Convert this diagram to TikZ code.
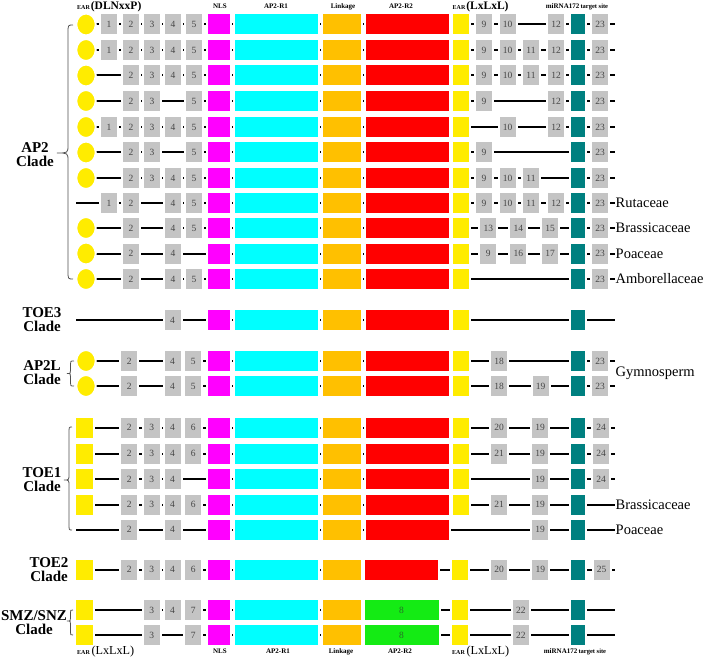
\documentclass[tikz,border=0pt]{standalone}
\usepackage{fontspec}
\setmainfont{Liberation Serif}
\usetikzlibrary{shapes.geometric}
\definecolor{earyellow}{RGB}{255,236,0}
\definecolor{boxgray}{RGB}{196,196,196}
\definecolor{numgray}{RGB}{70,70,70}
\definecolor{nlsmag}{RGB}{255,0,255}
\definecolor{rcyan}{RGB}{0,255,255}
\definecolor{lnkorange}{RGB}{255,192,0}
\definecolor{rred}{RGB}{255,0,0}
\definecolor{rgreen}{RGB}{20,235,20}
\definecolor{mirteal}{RGB}{0,128,128}
\definecolor{bracegray}{RGB}{80,80,80}
\tikzset{
  blk/.style={draw=white, line width=2pt, inner sep=0pt, outer sep=0pt, minimum height=22pt},
  gbox/.style={blk, fill=boxgray, minimum width=18pt, text=numgray, font=\fontsize{9.5}{9.5}\selectfont},
  earc/.style={ellipse, fill=earyellow, draw=white, line width=2pt, inner sep=0pt, minimum width=19.5pt, minimum height=22pt},
  earsq/.style={blk, fill=earyellow, minimum width=18.5pt},
  nlsbox/.style={blk, fill=nlsmag, minimum width=24pt},
  r1box/.style={blk, fill=rcyan, minimum width=85pt},
  lnkbox/.style={blk, fill=lnkorange, minimum width=40pt},
  r2box/.style={blk, fill=rred, minimum width=85pt},
  r2short/.style={blk, fill=rred, minimum width=75pt},
  r2green/.style={blk, fill=rgreen, minimum width=76pt, text={rgb,255:red,40;green,110;blue,40}, font=\fontsize{9.5}{9.5}\selectfont},
  mirbox/.style={blk, fill=mirteal, minimum width=16.5pt},
  bbline/.style={line width=2pt, black},
  bracestyle/.style={line width=0.8pt, bracegray},
  clade/.style={align=center, inner sep=0pt, font=\bfseries\fontsize{15}{14}\selectfont},
  fam/.style={anchor=west, inner sep=0.5pt, font=\fontsize{14.5}{15}\selectfont},
  hdr/.style={anchor=base, inner sep=0pt, font=\bfseries\fontsize{7}{7}\selectfont},
  hdrw/.style={anchor=base west, inner sep=0pt}
}
\newcommand\setrow[2]{\def\rn{#1}\def\ry{#2}}
\newcommand\bbone[1][615]{\coordinate (\rn-s) at (76,\ry); \coordinate (\rn-e) at (#1,\ry); \draw[bbline] (\rn-s) -- (\rn-e);}
\newcommand\earC{\node[earc] (\rn-ear) at (86,\ry) {};}
\newcommand\earS{\node[earsq] (\rn-ear) at (84.7,\ry) {};}
\newcommand\gb[2]{\node[gbox] (\rn-b#2) at (#1,\ry) {#2};}
\newcommand\NLSb{\node[nlsbox] (\rn-nls) at (219,\ry) {};}
\newcommand\Rone{\node[r1box] (\rn-r1) at (276.5,\ry) {};}
\newcommand\Lnk{\node[lnkbox] (\rn-lk) at (342,\ry) {};}
\newcommand\Rtwo{\node[r2box] (\rn-r2) at (407,\ry) {};}
\newcommand\EARb{\node[earsq] (\rn-earb) at (461,\ry) {};}
\newcommand\Mir{\node[mirbox] (\rn-mir) at (578,\ry) {};}
\newcommand\stdcore{\NLSb\Rone\Lnk\Rtwo\EARb}
\newcommand\cbrace[7]{\draw[bracestyle] (#1,#4) .. controls (#2,#4) .. (#2,#4+#7) -- (#2,#5-#7) .. controls (#2,#5) .. (#3,#5) .. controls (#2,#5) .. (#2,#5+#7) -- (#2,#6-#7) .. controls (#2,#6) .. (#1,#6);}
\begin{document}
\begin{tikzpicture}[x=1pt,y=-1pt]
\useasboundingbox (0,0) rectangle (708,660);
% ---------- header ----------
\node[hdrw] (h-ear1) at (77,9.5) {\bfseries\fontsize{6}{6}\selectfont EAR\,\fontsize{11.5}{12}\selectfont(DLNxxP)};
\node[hdr] (h-nls) at (220,8.5) {NLS};
\node[hdr] (h-r1) at (276,8.5) {AP2-R1};
\node[hdr] (h-lk) at (343,8.5) {Linkage};
\node[hdr] (h-r2) at (401,8.5) {AP2-R2};
\node[hdrw] (h-ear2) at (452.5,9.5) {\bfseries\fontsize{6}{6}\selectfont EAR\,\fontsize{11.5}{12}\selectfont(LxLxL)};
\node[hdr] (h-mir) at (577,8.5) {miRNA172\,{\fontsize{6.5}{6.5}\selectfont target site}};
% ---------- AP2 clade ----------
\setrow{a1}{24.5}\bbone
\earC\gb{109}{1}\gb{131}{2}\gb{152}{3}\gb{173}{4}\gb{194}{5}\stdcore
\gb{484}{9}\gb{507.5}{10}\gb{556}{12}\Mir\gb{600}{23}
\setrow{a2}{50}\bbone
\earC\gb{109}{1}\gb{131}{2}\gb{152}{3}\gb{173}{4}\gb{194}{5}\stdcore
\gb{484}{9}\gb{507.5}{10}\gb{531}{11}\gb{556}{12}\Mir\gb{600}{23}
\setrow{a3}{75.5}\bbone
\earC\gb{131}{2}\gb{152}{3}\gb{173}{4}\gb{194}{5}\stdcore
\gb{484}{9}\gb{507.5}{10}\gb{531}{11}\gb{556}{12}\Mir\gb{600}{23}
\setrow{a4}{101}\bbone
\earC\gb{131}{2}\gb{152}{3}\gb{194}{5}\stdcore
\gb{484}{9}\gb{556}{12}\Mir\gb{600}{23}
\setrow{a5}{127}\bbone
\earC\gb{109}{1}\gb{131}{2}\gb{152}{3}\gb{173}{4}\gb{194}{5}\stdcore
\gb{507.5}{10}\gb{556}{12}\Mir\gb{600}{23}
\setrow{a6}{152.5}\bbone
\earC\gb{131}{2}\gb{152}{3}\gb{194}{5}\stdcore
\gb{484}{9}\Mir\gb{600}{23}
\setrow{a7}{178}\bbone
\earC\gb{131}{2}\gb{152}{3}\gb{173}{4}\gb{194}{5}\stdcore
\gb{484}{9}\gb{507.5}{10}\gb{531}{11}\Mir\gb{600}{23}
\setrow{a8}{203}\bbone
\gb{109}{1}\gb{131}{2}\gb{173}{4}\gb{194}{5}\stdcore
\gb{484}{9}\gb{507.5}{10}\gb{531}{11}\gb{556}{12}\Mir\gb{600}{23}
\node[fam] (a8-lab) at (a8-e) {Rutaceae};
\setrow{a9}{228}\bbone
\earC\gb{131}{2}\gb{173}{4}\gb{194}{5}\stdcore
\gb{488.3}{13}\gb{518.3}{14}\gb{550}{15}\Mir\gb{600}{23}
\node[fam] (a9-lab) at (a9-e) {Brassicaceae};
\setrow{a10}{253.5}\bbone
\earC\gb{131}{2}\gb{173}{4}\stdcore
\gb{488.3}{9}\gb{518.3}{16}\gb{550}{17}\Mir\gb{600}{23}
\node[fam] (a10-lab) at (a10-e) {Poaceae};
\setrow{a11}{279}\bbone
\earC\gb{131}{2}\gb{173}{4}\gb{194}{5}\stdcore
\Mir\gb{600}{23}
\node[fam] (a11-lab) at (a11-e) {Amborellaceae};
\node[clade] (c-ap2) at (35,154.5) {AP2\\Clade};
\cbrace{73}{68}{57}{25}{153}{279}{8}
% ---------- TOE3 clade ----------
\setrow{t3}{320}\bbone
\gb{172.5}{4}\stdcore\Mir
\node[clade] (c-toe3) at (42,320) {TOE3\\Clade};
% ---------- AP2L clade ----------
\setrow{l1}{361}\bbone
\earC\gb{129.2}{2}\gb{172.5}{4}\gb{193.3}{5}\stdcore
\gb{499.2}{18}\Mir\gb{600}{23}
\setrow{l2}{386}\bbone
\earC\gb{129.2}{2}\gb{172.5}{4}\gb{193.3}{5}\stdcore
\gb{499.2}{18}\gb{540.5}{19}\Mir\gb{600}{23}
\node[fam] (l-lab) at (615,373) {Gymnosperm};
\node[clade] (c-ap2l) at (42,372.5) {AP2L\\Clade};
\cbrace{74}{70.5}{67}{361}{373.5}{386}{3}
% ---------- TOE1 clade ----------
\setrow{o1}{427.5}\bbone
\earS\gb{129.2}{2}\gb{151.7}{3}\gb{172.5}{4}\gb{193.3}{6}\stdcore
\gb{499.2}{20}\gb{540}{19}\Mir\gb{601}{24}
\setrow{o2}{453.5}\bbone
\earS\gb{129.2}{2}\gb{151.7}{3}\gb{172.5}{4}\gb{193.3}{6}\stdcore
\gb{499.2}{21}\gb{540}{19}\Mir\gb{601}{24}
\setrow{o3}{479}\bbone
\earS\gb{129.2}{2}\gb{151.7}{3}\gb{172.5}{4}\stdcore
\gb{540}{19}\Mir\gb{601}{24}
\setrow{o4}{504.5}\bbone
\earS\gb{129.2}{2}\gb{151.7}{3}\gb{172.5}{4}\gb{193.3}{6}\stdcore
\gb{499.2}{21}\gb{540}{19}\Mir
\node[fam] (o4-lab) at (o4-e) {Brassicaceae};
\setrow{o5}{529.5}\bbone
\gb{129.2}{2}\gb{172.5}{4}\NLSb\Rone\Lnk\Rtwo
\gb{540}{19}\Mir
\node[fam] (o5-lab) at (o5-e) {Poaceae};
\node[clade] (c-toe1) at (42,480) {TOE1\\Clade};
\cbrace{72}{69}{64}{427}{480}{530}{6}
% ---------- TOE2 clade ----------
\setrow{t2}{569.5}\bbone
\earS\gb{129.2}{2}\gb{151.7}{3}\gb{172.5}{4}\gb{193.3}{6}\NLSb\Rone\Lnk
\node[r2short] (t2-r2) at (401.3,\ry) {};
\node[earsq] (t2-earb) at (460,\ry) {};
\gb{499.2}{20}\gb{540.3}{19}\Mir\gb{601.7}{25}
\node[clade] (c-toe2) at (49,569.5) {TOE2\\Clade};
% ---------- SMZ/SNZ clade ----------
\setrow{s1}{610}\bbone
\earS\gb{151.7}{3}\gb{172.5}{4}\gb{193.3}{7}\NLSb\Rone\Lnk
\node[r2green] (s1-r2) at (401.5,\ry) {8};
\node[earsq] (s1-earb) at (460,\ry) {};
\gb{520.8}{22}\Mir
\setrow{s2}{635}\bbone
\earS\gb{151.7}{3}\gb{193.3}{7}\NLSb\Rone\Lnk
\node[r2green] (s2-r2) at (401.5,\ry) {8};
\node[earsq] (s2-earb) at (460,\ry) {};
\gb{520.8}{22}\Mir
\node[clade] (c-smz) at (34,623) {SMZ/SNZ\\Clade};
\cbrace{73}{70.5}{67}{610}{621}{635}{3}
% ---------- footer ----------
\node[hdrw] (f-ear1) at (77,654.5) {{\bfseries\fontsize{6}{6}\selectfont EAR}\,\fontsize{12.2}{12}\selectfont(LxLxL)};
\node[hdr] (f-nls) at (220,653.5) {NLS};
\node[hdr] (f-r1) at (278,653.5) {AP2-R1};
\node[hdr] (f-lk) at (341,653.5) {Linkage};
\node[hdr] (f-r2) at (400,653.5) {AP2-R2};
\node[hdrw] (f-ear2) at (452,654.5) {{\bfseries\fontsize{6}{6}\selectfont EAR}\,\fontsize{12.2}{12}\selectfont(LxLxL)};
\node[hdr] (f-mir) at (575,653.5) {miRNA172\,{\fontsize{6.5}{6.5}\selectfont target site}};
\end{tikzpicture}
\end{document}
